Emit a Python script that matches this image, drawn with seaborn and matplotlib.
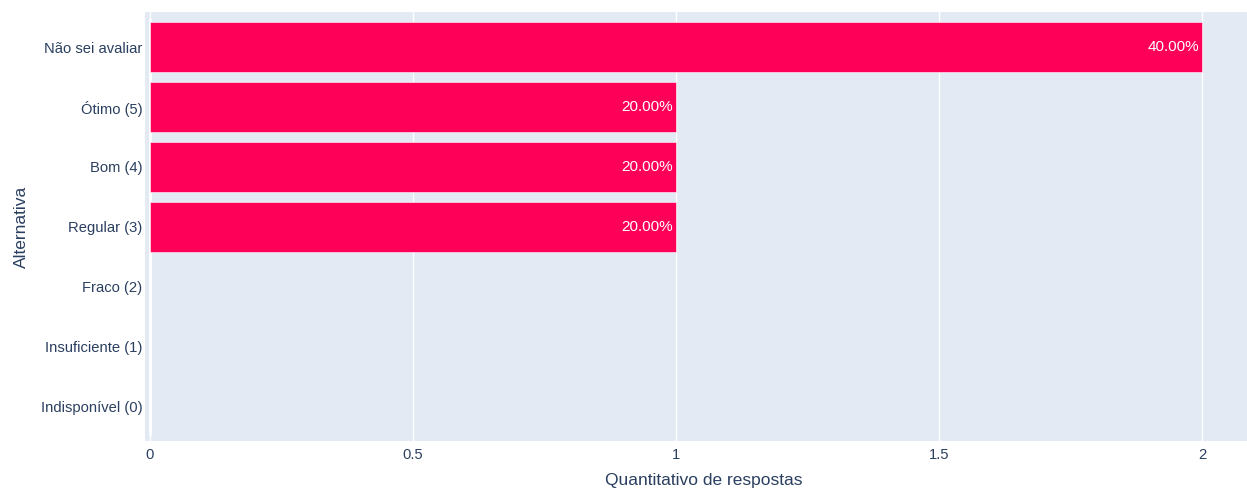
import pandas as pd
import seaborn as sns
import matplotlib.pyplot as plt

# Survey answers
alternativas = ["Não sei avaliar", "Ótimo (5)", "Bom (4)", "Regular (3)",
                "Fraco (2)", "Insuficiente (1)", "Indisponível (0)"]
respostas = [2, 1, 1, 1, 0, 0, 0]
percentuais = [40.0, 20.0, 20.0, 20.0, 0.0, 0.0, 0.0]
x_ticks = [0, 0.5, 1, 1.5, 2]
x_tick_labels = ["0", "0.5", "1", "1.5", "2"]

df = pd.DataFrame({"Alternativa": alternativas, "Respostas": respostas,
                   "Percentual": percentuais})

text_color = "#2a3f5f"
plt.rcParams["font.family"] = ["Liberation Sans", "DejaVu Sans"]

fig = plt.figure(figsize=(12.47, 4.9), dpi=100)
ax = fig.add_axes([0.1163, 0.1, 0.8837, 0.8755])
ax.set_facecolor("#E3EAF4")

sns.barplot(data=df, y="Alternativa", x="Respostas", orient="h",
            color="#FF0058", saturation=1, width=0.84, ax=ax,
            edgecolor="#FFFFFF", linewidth=0.4, zorder=3)

# labels inside the bar end
for bar, pct in zip(ax.patches, df["Percentual"]):
    w = bar.get_width()
    if w > 0:
        ax.text(w - 0.006, bar.get_y() + bar.get_height() / 2, f"{pct:.2f}%",
                ha="right", va="center", color="white", fontsize=11, zorder=4)

ax.set_xlim(-0.0095, 2.085)
ax.set_ylim(6.58, -0.59)
ax.set_xticks(x_ticks)
ax.set_xticklabels(x_tick_labels)
ax.grid(axis="x", color="white", linewidth=1, zorder=0)
ax.grid(axis="y", visible=False)
ax.vlines(0, -0.48, 6.48, color="white", linewidth=2, zorder=2)
for s in ax.spines.values():
    s.set_visible(False)
ax.tick_params(axis="both", length=0, colors=text_color, labelsize=10.6)
ax.tick_params(axis="y", pad=2)
ax.tick_params(axis="x", pad=5)
ax.set_xlabel("Quantitativo de respostas", color=text_color, fontsize=12.5)
ax.set_ylabel("Alternativa", color=text_color, fontsize=12.5)
ax.xaxis.set_label_coords(0.507, -0.075)
ax.yaxis.set_label_coords(-0.105, 0.5)

fig.savefig("out.png", dpi=100)
